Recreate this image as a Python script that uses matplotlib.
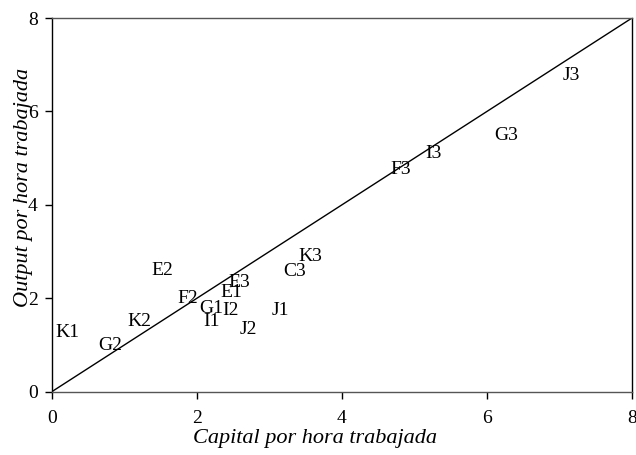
import matplotlib
matplotlib.use("Agg")
import matplotlib.pyplot as plt

# Capital and output per hour worked, by labelled observation
labels = ["K1", "G2", "K2", "E2", "F2", "G1", "I1", "I2", "E1", "E3",
          "J1", "J2", "C3", "K3", "F3", "I3", "G3", "J3"]
capital = [0.21, 0.81, 1.21, 1.52, 1.87, 2.20, 2.20, 2.47, 2.47, 2.58,
           3.15, 2.71, 3.35, 3.57, 4.81, 5.26, 6.27, 7.16]
output = [1.26, 1.00, 1.50, 2.59, 1.99, 1.78, 1.50, 1.75, 2.12, 2.33,
          1.75, 1.33, 2.57, 2.89, 4.75, 5.11, 5.48, 6.78]

ticks = [0, 2, 4, 6, 8]

plt.rcParams["font.family"] = ["Liberation Serif", "DejaVu Serif"]

fig = plt.figure(figsize=(6.36, 4.55), dpi=100)
ax = fig.add_axes([0.0813, 0.139, 0.9124, 0.8214])

# 45-degree reference line
ax.plot([0, 8], [0, 8], color="black", lw=1.0)

for lab, x, y in zip(labels, capital, output):
    ax.text(x, y, lab, ha="center", va="center", fontsize=14, color="black")

ax.set_xlim(0, 8)
ax.set_ylim(0, 8)
ax.set_xticks(ticks)
ax.set_yticks(ticks)
ax.tick_params(axis="both", direction="out", length=5, width=1,
               labelsize=14, colors="black")
ax.tick_params(axis="x", pad=8)
ax.tick_params(axis="y", pad=5)

for side in ("left", "right"):
    ax.spines[side].set_color("black")
for side in ("top", "bottom"):
    ax.spines[side].set_color("#555555")
for s in ax.spines.values():
    s.set_linewidth(1.0)

ax.set_xlabel("Capital por hora trabajada", fontsize=16, style="italic")
ax.set_ylabel("Output por hora trabajada", fontsize=16, style="italic")
ax.xaxis.set_label_coords(0.454, -0.10)
ax.yaxis.set_label_coords(-0.032, 0.548)

fig.savefig("out.png", dpi=100)
